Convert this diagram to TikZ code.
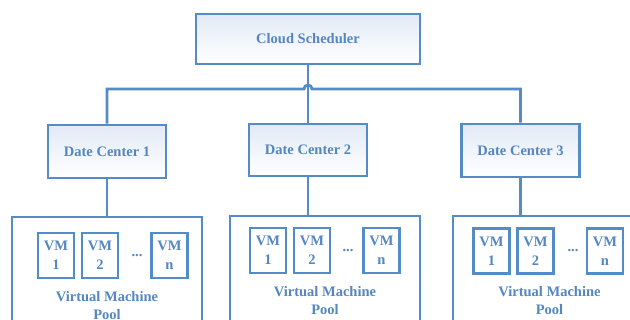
\documentclass[tikz,border=0pt]{standalone}
\usepackage{fontspec}
\setmainfont{Liberation Serif}
\usepackage{tikz}
\definecolor{lineblue}{RGB}{84,140,200}
\definecolor{textblue}{RGB}{84,134,194}
\definecolor{fillblue}{RGB}{226,234,247}
\tikzset{
  box/.style={draw=lineblue, line width=2.8pt, top color=fillblue, bottom color=white, text=textblue, font=\fontsize{14.5}{17}\selectfont\bfseries},
  poolbox/.style={draw=lineblue, line width=2.8pt, fill=white},
  vmbox/.style={draw=lineblue, line width=2.8pt, fill=white, text=textblue, minimum width=36pt, minimum height=45pt, inner sep=0pt, align=center, font=\fontsize{14.5}{19}\selectfont\bfseries},
  label/.style={text=textblue, align=center, inner sep=0pt, font=\fontsize{14.5}{18}\selectfont\bfseries},
  link/.style={draw=lineblue, line width=2.8pt}
}
\begin{document}
\begin{tikzpicture}[x=1pt,y=-1pt]
\clip (0,0) rectangle (630,320);
\fill[white] (0,0) rectangle (630,320);
% scheduler and data centers
\node[box, minimum width=224pt, minimum height=50pt] (sched) at (308,39) {Cloud Scheduler};
\node[box, minimum width=118pt, minimum height=53pt] (dc1) at (107,151.5) {Date Center 1};
\node[box, minimum width=118pt, minimum height=52pt] (dc2) at (308,150) {Date Center 2};
\node[box, minimum width=118pt, minimum height=53pt] (dc3) at (520.5,150.5) {Date Center 3};
\coordinate (bus) at (308,89);
\draw[link] (dc1.north) |- ([xshift=-4pt]bus) arc[start angle=180, end angle=0, radius=4pt] -| (dc3.north);
\draw[link] (sched.south) -- (dc2.north);
% pools
\node[poolbox, minimum width=190pt, minimum height=113pt] (pool1) at (107,273.5) {};
\node[poolbox, minimum width=190pt, minimum height=114pt] (pool2) at (325,273) {};
\node[poolbox, minimum width=207pt, minimum height=114pt] (pool3) at (556.5,273) {};
\draw[link] (dc1.south) -- (dc1.south |- pool1.north);
\draw[link] (dc2.south) -- (dc2.south |- pool2.north);
\draw[link] (dc3.south) -- (dc3.south |- pool3.north);
% virtual machines
\node[vmbox] (vm11) at (56,255.5) {VM\\1};
\node[vmbox] (vm12) at (100,255.5) {VM\\2};
\node[vmbox] (vm1n) at (169.5,255.5) {VM\\n};
\node[label] (dots1) at (137,255.5) {...};
\node[vmbox] (vm21) at (268,250.5) {VM\\1};
\node[vmbox] (vm22) at (312,250.5) {VM\\2};
\node[vmbox] (vm2n) at (381.5,250.5) {VM\\n};
\node[label] (dots2) at (348,250.5) {...};
\node[vmbox] (vm31) at (491.5,251) {VM\\1};
\node[vmbox] (vm32) at (535.5,251) {VM\\2};
\node[vmbox] (vm3n) at (605,251) {VM\\n};
\node[label] (dots3) at (573,251) {...};
\node[label] (pool1text) at (107,306) {Virtual Machine\\Pool};
\node[label] (pool2text) at (325,301) {Virtual Machine\\Pool};
\node[label] (pool3text) at (549.5,301) {Virtual Machine\\Pool};
\end{tikzpicture}
\end{document}
